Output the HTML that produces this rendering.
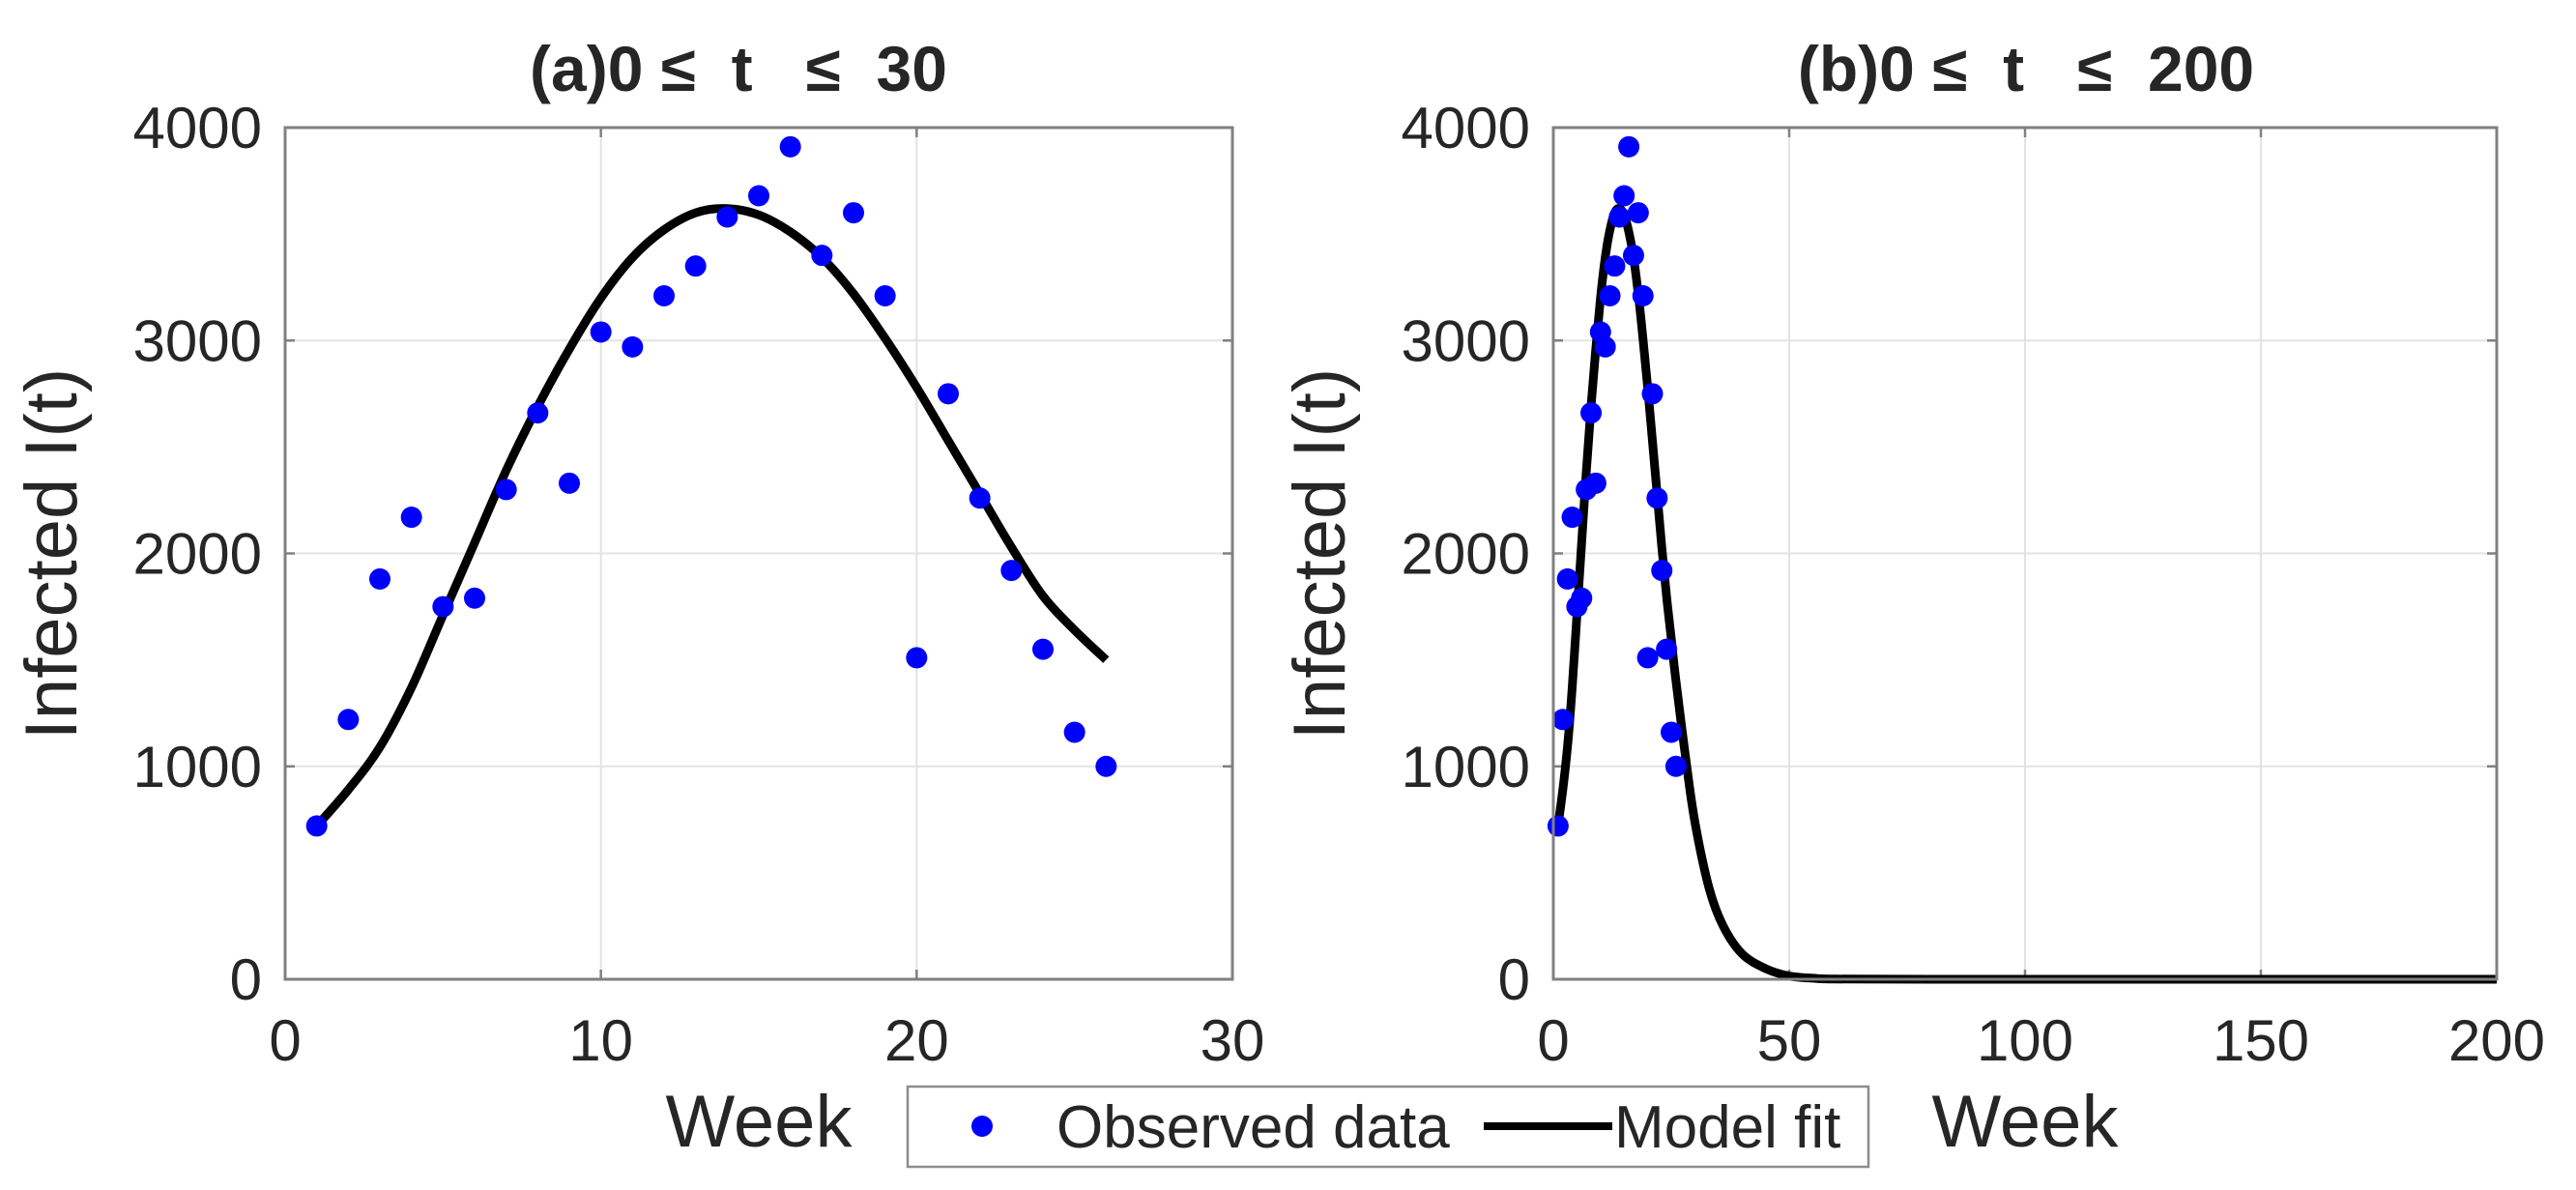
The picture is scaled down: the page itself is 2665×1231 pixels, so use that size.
<!DOCTYPE html>
<html><head><meta charset="utf-8"><style>
html,body{margin:0;padding:0;background:#fff;}
svg{display:block;font-family:"Liberation Sans",Arial,sans-serif;}
.pre{white-space:pre;}
</style></head><body>
<svg id="chart" width="2665" height="1231" viewBox="0 0 2665 1231" xmlns="http://www.w3.org/2000/svg">
<rect width="2665" height="1231" fill="#fff"/>
<g id="pa"></g>
<g id="pb"></g>
<g>
<rect x="939" y="1124" width="994" height="83" fill="#fff" stroke="#8c8c8c" stroke-width="2.5"/>
<circle cx="1016" cy="1165" r="11" fill="#0000ff"/>
<text x="1093" y="1187" font-size="62" fill="#262626">Observed data</text>
<line x1="1535" y1="1165" x2="1668" y2="1165" stroke="#000" stroke-width="8"/>
<text x="1670" y="1187" font-size="62" fill="#262626">Model fit</text>
</g>
</svg>
<script>
const weeks = [1,2,3,4,5,6,7,8,9,10,11,12,13,14,15,16,17,18,19,20,21,22,23,24,25,26];
const observed = [720,1220,1880,2170,1750,1790,2300,2660,2330,3040,2970,3210,3350,3580,3680,3910,3400,3600,3210,1510,2750,2260,1920,1550,1160,1000];
const fitTimesA = [1,2,3,4,5,6,7,8,9,10,11,12,13,14,15,16,17,18,19,20,21,22,23,24,25,26];
const fitValuesA = [720,890,1090,1370,1710,2050,2390,2690,2960,3200,3390,3520,3600,3620,3590,3510,3390,3220,3010,2780,2530,2280,2030,1800,1640,1500];
const fitTimesB = [1,2,3,4,5,6,7,8,9,10,11,12,13,14,15,16,17,18,19,20,21,22,23,24,25,26,28,30,33,36,40,45,50,55,60,80,120,200];
const fitValuesB = [720,890,1090,1370,1710,2050,2390,2690,2960,3200,3390,3520,3600,3620,3590,3510,3390,3220,3010,2780,2530,2280,2030,1800,1600,1400,1050,740,430,250,120,50,15,5,1,0,0,0];
const yTicks = [0,1000,2000,3000,4000];
const xTicksA = [0,10,20,30];
const xTicksB = [0,50,100,150,200];
const NS = "http://www.w3.org/2000/svg";
function mk(parent, tag, attrs, text){
  const e = document.createElementNS(NS, tag);
  for (const k in attrs) e.setAttribute(k, attrs[k]);
  if (text !== undefined) e.textContent = text;
  parent.appendChild(e);
  return e;
}
function smoothPath(pts){
  let d = 'M' + pts[0][0].toFixed(1) + ',' + pts[0][1].toFixed(1);
  for (let i=0;i<pts.length-1;i++){
    const p0 = pts[Math.max(0,i-1)], p1 = pts[i], p2 = pts[i+1], p3 = pts[Math.min(pts.length-1,i+2)];
    const c1x = p1[0] + (p2[0]-p0[0])/6, c1y = p1[1] + (p2[1]-p0[1])/6;
    const c2x = p2[0] - (p3[0]-p1[0])/6, c2y = p2[1] - (p3[1]-p1[1])/6;
    d += 'C' + c1x.toFixed(1)+','+c1y.toFixed(1)+' '+c2x.toFixed(1)+','+c2y.toFixed(1)+' '+p2[0].toFixed(1)+','+p2[1].toFixed(1);
  }
  return d;
}
function panel(g, cfg){
  const L=cfg.L, R=cfg.R, T=132, B=1013;
  const sx = v => L + (v - cfg.xmin)/(cfg.xmax - cfg.xmin)*(R-L);
  const sy = v => B - v/4000*(B-T);
  cfg.xt.forEach(v=>{
    const ln = mk(g,'line',{x1:sx(v),x2:sx(v),y1:T,y2:B,stroke:'#e3e3e3','stroke-width':2});
    
    
  });
  yTicks.forEach(v=>{
    const ln = mk(g,'line',{x1:L,x2:R,y1:sy(v),y2:sy(v),stroke:'#e3e3e3','stroke-width':2});
    
    
  });
  cfg.xt.forEach(v=>{
    const t1 = mk(g,'line',{x1:sx(v),x2:sx(v),y1:B,y2:B-10,stroke:'#808080','stroke-width':2.5});
    
    
    const t2 = mk(g,'line',{x1:sx(v),x2:sx(v),y1:T,y2:T+10,stroke:'#808080','stroke-width':2.5});
    
    
    const lb = mk(g,'text',{x:sx(v),y:1097,'font-size':60,'text-anchor':'middle',fill:'#262626'},String(v));
    
    
  });
  yTicks.forEach(v=>{
    const t1 = mk(g,'line',{x1:L,x2:L+10,y1:sy(v),y2:sy(v),stroke:'#808080','stroke-width':2.5});
    
    
    const t2 = mk(g,'line',{x1:R,x2:R-10,y1:sy(v),y2:sy(v),stroke:'#808080','stroke-width':2.5});
    
    
    const lb = mk(g,'text',{x:L-24,y:sy(v)+21,'font-size':60,'text-anchor':'end',fill:'#262626'},String(v));
    
    
  });
  const pts = cfg.ft.map((t,i)=>[sx(t), sy(cfg.fv[i])]);
  const p = mk(g,'path',{d:smoothPath(pts),fill:'none',stroke:'#000','stroke-width':9,'stroke-linejoin':'round'});
  
  
  weeks.forEach((w,i)=>{
    const c = mk(g,'circle',{cx:sx(w),cy:sy(observed[i]),r:11,fill:'#0000ff'});
    
    
  });
  const bx = mk(g,'rect',{x:L,y:T,width:R-L,height:B-T,fill:'none',stroke:'#808080','stroke-width':3});
  
  
  const ti = mk(g,'text',{x:cfg.tx,y:94,'font-size':66,'font-weight':'bold','text-anchor':'middle',fill:'#262626','class':'pre'},cfg.title);
  
  
  const xl = mk(g,'text',{x:(L+R)/2,y:1186,'font-size':76,'text-anchor':'middle',fill:'#262626'},'Week');
  
  
  const yl = mk(g,'text',{x:0,y:0,'font-size':76,'text-anchor':'middle',fill:'#262626',transform:'translate('+(L-216)+',573) rotate(-90)'},'Infected I(t)');
  
  
}
panel(document.getElementById('pa'),{L:295,R:1275,xmin:0,xmax:30,xt:xTicksA,ft:fitTimesA,fv:fitValuesA,title:'(a)0 \u2264  t   \u2264  30',tx:764});
panel(document.getElementById('pb'),{L:1607,R:2583,xmin:0,xmax:200,xt:xTicksB,ft:fitTimesB,fv:fitValuesB,title:'(b)0 \u2264  t   \u2264  200',tx:2096});
</script>
</body></html>
